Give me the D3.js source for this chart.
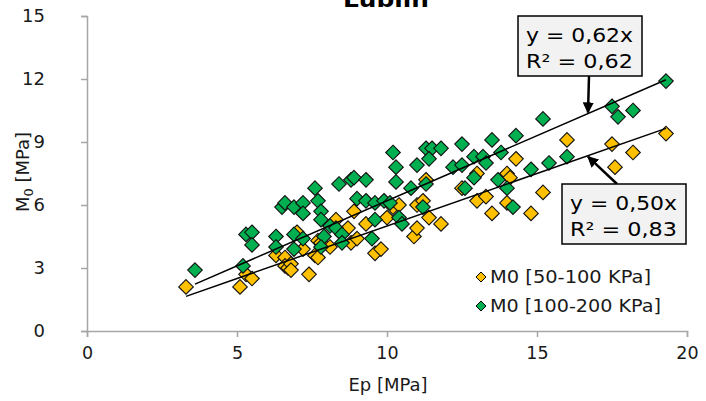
<!DOCTYPE html>
<html><head><meta charset="utf-8">
<script src="https://cdn.jsdelivr.net/npm/d3@7"></script>
<style>body{margin:0;background:#fff}svg{display:block}text{font-family:"DejaVu Sans",Verdana,sans-serif}</style>
</head><body><svg id="c" width="706" height="401"></svg>
<script>
const title = "Lublin";
const xTicks = [0,5,10,15,20];
const yTicks = [0,3,6,9,12,15];
const seriesNames = ["M0 [50-100 KPa]","M0 [100-200 KPa]"];
const seriesColors = ["#FFC000","#00B050"];
const slopes = [0.50, 0.62];
const eqTexts = [["y = 0,50x","R² = 0,83"],["y = 0,62x","R² = 0,62"]];

const orangeX = [3.3,5.1,5.3,5.5,6.3,6.6,6.6,6.7,6.8,6.8,7.0,7.2,7.4,7.6,7.7,7.7,7.8,8.1,8.3,8.7,8.8,8.9,9.0,9.3,9.6,9.8,10.0,10.2,10.4,10.9,11.0,11.0,11.2,11.3,11.4,11.8,12.5,13.0,13.0,13.3,13.5,14.0,14.0,14.1,14.3,14.8,15.2,16.0,17.5,17.6,18.2,19.3];
const orangeY = [2.1,2.1,2.7,2.5,3.6,3.5,3.1,3.0,3.2,2.9,4.7,3.9,2.7,3.6,3.5,4.3,4.2,4.0,5.3,4.9,4.2,5.7,4.4,5.1,3.7,3.9,5.4,5.9,6.0,4.5,4.9,6.0,6.2,7.2,5.4,5.1,6.8,6.2,7.5,6.4,5.6,6.1,7.5,7.3,8.2,5.6,6.6,9.1,8.9,7.8,8.5,9.4];
const greenX = [3.6,5.2,5.3,5.5,5.5,6.3,6.3,6.5,6.6,6.9,7.2,7.2,6.9,7.2,6.9,7.6,7.7,7.8,7.8,7.9,7.8,8.1,8.3,8.5,8.5,8.4,8.8,8.9,9.3,9.0,9.3,9.6,9.9,10.1,9.6,9.5,10.2,10.3,10.3,10.8,11.3,11.2,10.4,10.5,11.0,11.3,11.5,11.8,11.4,12.2,12.5,12.5,12.9,13.2,13.3,12.9,12.6,13.5,13.8,13.7,14.0,14.2,14.3,14.8,15.2,15.4,16.0,17.5,17.7,18.2,19.3];
const greenY = [2.9,3.1,4.6,4.7,4.1,4.5,4.0,5.9,6.1,5.9,6.1,5.6,4.6,4.4,3.9,6.8,6.2,5.7,5.3,4.5,4.0,5.0,4.9,4.6,4.2,7.0,7.2,7.3,7.2,6.3,6.2,6.1,6.2,6.1,5.3,4.4,8.5,7.8,7.1,6.8,7.0,5.9,5.4,5.1,7.9,8.7,8.7,8.7,8.2,7.8,7.9,8.9,8.3,8.3,8.0,7.3,6.8,9.1,8.5,7.2,6.8,5.9,9.3,7.7,10.1,8.0,8.3,10.7,10.2,10.5,11.9];

const svg = d3.select("#c");
const x = d3.scaleLinear().domain([0,20]).range([87,687]);
const y = d3.scaleLinear().domain([0,15]).range([331,16]);
const axisColor = "#a6a6a6";

// title (cut at top)
svg.append("text").attr("x",386).attr("y",7).attr("text-anchor","middle")
  .attr("font-size",22).attr("font-weight","bold").attr("textLength",86).attr("lengthAdjust","spacingAndGlyphs").text(title);

// axes
const gx = svg.append("g").attr("transform",`translate(0,${y(0)})`)
  .call(d3.axisBottom(x).tickValues(xTicks).tickSize(6).tickPadding(10));
const gy = svg.append("g").attr("transform",`translate(${x(0)},0)`)
  .call(d3.axisLeft(y).tickValues(yTicks).tickSize(6).tickPadding(36));
[gx,gy].forEach(g=>{
  g.select(".domain").attr("stroke",axisColor).attr("stroke-width",1.5);
  g.selectAll(".tick line").attr("stroke",axisColor).attr("stroke-width",1.5);
  g.selectAll(".tick text").attr("fill","#1a1a1a");
});
gx.selectAll(".tick text").attr("font-size",17.5).attr("font-family","DejaVu Sans");
gy.selectAll(".tick text").attr("font-size",18).attr("font-family","Liberation Sans");

// axis titles
svg.append("text").attr("x",388).attr("y",391).attr("text-anchor","middle").attr("font-size",18).attr("fill","#1a1a1a").text("Ep [MPa]");
const yt = svg.append("text").attr("transform","translate(29,172) rotate(-90)").attr("text-anchor","middle").attr("font-size",18).attr("fill","#1a1a1a");
yt.append("tspan").text("M");
yt.append("tspan").attr("font-size",13).attr("dy",4).text("0");
yt.append("tspan").attr("dy",-4).text(" [MPa]");

// points
const series = [
  {xs:orangeX, ys:orangeY},
  {xs:greenX, ys:greenY}
];
const diamond = (cx,cy,r)=>`M${cx},${cy-r}L${cx+r},${cy}L${cx},${cy+r}L${cx-r},${cy}Z`;
series.forEach((s,i)=>{
  svg.append("g").selectAll("path").data(s.xs.map((v,j)=>[v,s.ys[j]])).join("path")
    .attr("d",d=>diamond(x(d[0]),y(d[1]),7.3))
    .attr("fill",seriesColors[i]).attr("stroke","#111").attr("stroke-width",1.1);
});
// trendlines
series.forEach((s,i)=>{
  const x0 = d3.min(s.xs), x1 = d3.max(s.xs);
  svg.append("line").attr("x1",x(x0)).attr("y1",y(slopes[i]*x0)).attr("x2",x(x1)).attr("y2",y(slopes[i]*x1))
    .attr("stroke","#000").attr("stroke-width",1.5);
});

// arrows
const defs = svg.append("defs");
defs.append("marker").attr("id","ah").attr("viewBox","0 0 10 10").attr("refX",9).attr("refY",5)
  .attr("markerWidth",4.5).attr("markerHeight",4.5).attr("orient","auto")
  .append("path").attr("d","M0,0L10,5L0,10Z").attr("fill","#000");
const boxes = [
  {bx:562, by:184, ax0:617, ay0:184, ax:16.7, s:0},
  {bx:518, by:16, ax0:589, ay0:76, ax:16.7, s:1}
];
boxes.forEach(b=>{
  svg.append("line").attr("x1",b.ax0).attr("y1",b.ay0).attr("x2",x(b.ax)).attr("y2",y(slopes[b.s]*b.ax)+(b.s===1?-1:1))
    .attr("stroke","#000").attr("stroke-width",2.5).attr("marker-end","url(#ah)");
  svg.append("rect").attr("x",b.bx).attr("y",b.by).attr("width",124).attr("height",60)
    .attr("fill","#f2f2f2").attr("stroke","#000").attr("stroke-width",1.5);
  eqTexts[b.s].forEach((t,k)=>{
    svg.append("text").attr("x",b.bx+8).attr("y",b.by+26+k*25.5).attr("font-size",19)
      .attr("textLength",107).attr("lengthAdjust","spacingAndGlyphs").attr("fill","#000").text(t);
  });
});

// legend
seriesNames.forEach((n,i)=>{
  const ly = 277 + i*29;
  svg.append("path").attr("d",diamond(481,ly,5)).attr("fill",seriesColors[i]).attr("stroke","#000").attr("stroke-width",1);
  svg.append("text").attr("x",490).attr("y",ly+6).attr("font-size",17.5).attr("fill","#1a1a1a")
    .attr("textLength", i===0?161:171).attr("lengthAdjust","spacingAndGlyphs").text(n);
});
</script></body></html>
